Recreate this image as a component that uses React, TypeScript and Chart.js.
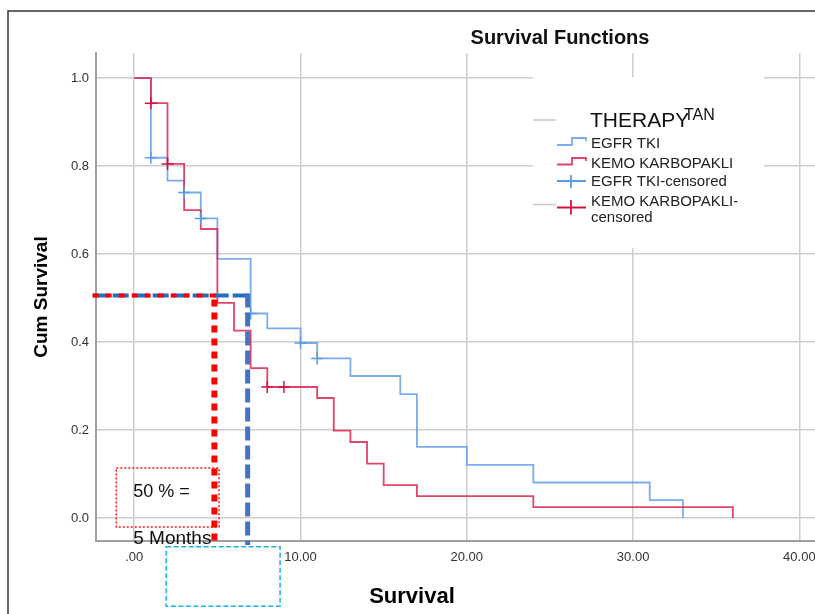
import React, { useEffect, useRef } from 'react';
import { Chart, registerables } from 'chart.js';
Chart.register(...registerables);

// ---- data ----
const xTicks = [0, 10, 20, 30, 40];
const yTicks = [0, 0.2, 0.4, 0.6, 0.8, 1.0];

const egfrTimes = [0, 1, 2, 3, 4, 5, 7, 8, 10, 11, 13, 16, 17, 20, 24, 31, 33];
const egfrSurvival = [1.0, 0.819, 0.767, 0.74, 0.681, 0.589, 0.465, 0.431, 0.398, 0.363, 0.323, 0.282, 0.162, 0.121, 0.081, 0.041, 0];
const egfrCensorTimes = [1, 3, 4, 7, 10, 11];
const egfrCensorSurvival = [0.819, 0.74, 0.681, 0.465, 0.398, 0.363];

const kemoTimes = [0, 1, 2, 3, 4, 5, 6, 7, 8, 11, 12, 13, 14, 15, 17, 24, 36];
const kemoSurvival = [1.0, 0.943, 0.805, 0.70, 0.657, 0.489, 0.426, 0.341, 0.298, 0.273, 0.199, 0.173, 0.124, 0.075, 0.050, 0.025, 0];
const kemoCensorTimes = [1, 2, 8, 9];
const kemoCensorSurvival = [0.943, 0.805, 0.298, 0.298];

const legendLabels = ['EGFR TKI', 'KEMO KARBOPAKLI', 'EGFR TKI-censored', 'KEMO KARBOPAKLI-', 'censored'];

// annotation values (in data units)
const medianLevel = 0.506;
const kemoMedianMark = 4.82;
const egfrMedianMark = 6.82;
const annStartX = -2.5;
const annBottom = -0.061;

const FONT = "'Liberation Sans', Arial, sans-serif";
const BLUE = 'rgba(100,158,236,0.85)';
const RED = 'rgba(221,36,78,0.85)';

const pts = (xs: number[], ys: number[]) => xs.map((x, i) => ({ x, y: ys[i] }));

const overlay = {
  id: 'overlay',
  beforeDraw(chart: any) {
    const { ctx, width, height } = chart;
    ctx.save();
    ctx.fillStyle = '#fff';
    ctx.fillRect(0, 0, width, height);
    ctx.restore();
  },
  afterDraw(chart: any) {
    const { ctx } = chart;
    const xs = chart.scales.x;
    const ys = chart.scales.y;
    const X = (v: number) => xs.getPixelForValue(v);
    const Y = (v: number) => ys.getPixelForValue(v);
    ctx.save();

    // outer frame
    ctx.strokeStyle = '#333';
    ctx.lineWidth = 1.5;
    ctx.beginPath();
    ctx.moveTo(8, 614);
    ctx.lineTo(8, 11);
    ctx.lineTo(900, 11);
    ctx.stroke();

    // title
    ctx.fillStyle = '#111';
    ctx.font = `bold 20px ${FONT}`;
    ctx.textAlign = 'center';
    ctx.textBaseline = 'middle';
    ctx.fillText('Survival Functions', 560, 38);

    // x title
    ctx.font = `bold 22px ${FONT}`;
    ctx.fillStyle = '#000';
    ctx.fillText('Survival', 412, 597);

    // legend box
    ctx.fillStyle = '#fff';
    ctx.fillRect(533, 77, 231, 171);
    ctx.strokeStyle = '#c8c8c8';
    ctx.lineWidth = 1.5;
    ctx.beginPath();
    ctx.moveTo(533, 120); ctx.lineTo(556, 120);
    ctx.moveTo(533, 204.5); ctx.lineTo(556, 204.5);
    ctx.stroke();

    ctx.textAlign = 'left';
    ctx.textBaseline = 'alphabetic';
    ctx.fillStyle = '#111';
    ctx.font = `21px ${FONT}`;
    ctx.fillText('THERAPY', 590, 127);
    ctx.font = `16px ${FONT}`;
    ctx.fillText('TAN', 684, 120);

    ctx.font = `15px ${FONT}`;
    ctx.fillStyle = '#222';
    ctx.textBaseline = 'middle';
    const ly = [143.5, 163.5, 182, 202, 217.5];
    legendLabels.forEach((t, i) => ctx.fillText(t, 591, ly[i]));

    ctx.lineWidth = 1.8;
    ctx.strokeStyle = BLUE;
    ctx.beginPath();
    ctx.moveTo(557, 145); ctx.lineTo(572, 145); ctx.lineTo(572, 138); ctx.lineTo(586, 138); ctx.lineTo(586, 141);
    ctx.stroke();
    ctx.strokeStyle = RED;
    ctx.beginPath();
    ctx.moveTo(557, 164.5); ctx.lineTo(572, 164.5); ctx.lineTo(572, 158); ctx.lineTo(586, 158); ctx.lineTo(586, 161);
    ctx.stroke();
    ctx.strokeStyle = '#5d9be8';
    ctx.beginPath();
    ctx.moveTo(557, 181); ctx.lineTo(586, 181);
    ctx.moveTo(571, 175); ctx.lineTo(571, 188);
    ctx.stroke();
    ctx.strokeStyle = '#d8103e';
    ctx.beginPath();
    ctx.moveTo(557, 207.5); ctx.lineTo(586, 207.5);
    ctx.moveTo(571, 200); ctx.lineTo(571, 214.5);
    ctx.stroke();

    // annotation texts
    ctx.fillStyle = '#111';
    ctx.textAlign = 'left';
    ctx.textBaseline = 'middle';
    ctx.font = `18px ${FONT}`;
    ctx.fillText('50 % =', X(-0.06), Y(0.06));
    ctx.font = `19px ${FONT}`;
    ctx.fillText('5 Months', X(-0.06), Y(-0.046));

    // red dotted box
    ctx.strokeStyle = '#ff1010';
    ctx.lineWidth = 1.5;
    ctx.setLineDash([2, 2]);
    ctx.strokeRect(X(-1.08), Y(0.114), X(5.1) - X(-1.08), Y(-0.02) - Y(0.114));

    // blue dashed box
    ctx.strokeStyle = '#1eb0ee';
    ctx.lineWidth = 1.5;
    ctx.setLineDash([5, 2.5]);
    ctx.strokeRect(X(1.92), Y(-0.065), X(8.77) - X(1.92), Y(-0.2) - Y(-0.065));

    // blue dashed median lines
    ctx.lineCap = 'butt';
    ctx.strokeStyle = '#1f6fc4';
    ctx.lineWidth = 4;
    ctx.setLineDash([16, 4]);
    ctx.beginPath();
    ctx.moveTo(X(annStartX), Y(medianLevel));
    ctx.lineTo(X(egfrMedianMark) + 2, Y(medianLevel));
    ctx.stroke();
    ctx.strokeStyle = '#4472c4';
    ctx.lineWidth = 5;
    ctx.setLineDash([14, 5]);
    ctx.beginPath();
    ctx.moveTo(X(egfrMedianMark), Y(medianLevel) - 2);
    ctx.lineTo(X(egfrMedianMark), Y(annBottom));
    ctx.stroke();

    // red dotted median lines
    ctx.strokeStyle = '#ff0000';
    ctx.lineWidth = 4;
    ctx.setLineDash([6, 7]);
    ctx.beginPath();
    ctx.moveTo(X(annStartX), Y(medianLevel));
    ctx.lineTo(X(kemoMedianMark) + 3, Y(medianLevel));
    ctx.stroke();
    ctx.lineWidth = 6;
    ctx.setLineDash([7, 6]);
    ctx.beginPath();
    ctx.moveTo(X(kemoMedianMark), Y(medianLevel) + 4);
    ctx.lineTo(X(kemoMedianMark), Y(annBottom));
    ctx.stroke();

    ctx.restore();
  },
};

export default function App() {
  const ref = useRef<HTMLCanvasElement>(null);
  useEffect(() => {
    if (!ref.current) return;
    const chart = new Chart(ref.current, {
      type: 'line',
      data: {
        datasets: [
          {
            label: 'EGFR TKI-censored',
            data: pts(egfrCensorTimes, egfrCensorSurvival),
            showLine: false,
            pointStyle: 'cross',
            pointRadius: 6,
            pointBorderWidth: 1.5,
            borderColor: '#5d9be8',
            backgroundColor: '#5d9be8',
            order: 0,
          } as any,
          {
            label: 'KEMO KARBOPAKLI-censored',
            data: pts(kemoCensorTimes, kemoCensorSurvival),
            showLine: false,
            pointStyle: 'cross',
            pointRadius: 6,
            pointBorderWidth: 1.5,
            borderColor: '#d8103e',
            backgroundColor: '#d8103e',
            order: 0,
          },
          {
            label: 'KEMO KARBOPAKLI',
            data: pts(kemoTimes, kemoSurvival),
            stepped: true,
            borderColor: RED,
            borderWidth: 1.8,
            pointRadius: 0,
            fill: false,
            order: 1,
          },
          {
            label: 'EGFR TKI',
            data: pts(egfrTimes, egfrSurvival),
            stepped: true,
            borderColor: BLUE,
            borderWidth: 1.8,
            pointRadius: 0,
            fill: false,
            order: 2,
          },
        ],
      },
      options: {
        responsive: false,
        animation: false,
        devicePixelRatio: 1,
        layout: { padding: { left: 8, top: 53, right: 0, bottom: 0 } },
        plugins: {
          legend: { display: false },
          tooltip: { enabled: false },
        },
        scales: {
          x: {
            type: 'linear',
            min: -2.3,
            max: 45.6,
            afterFit: (s: any) => { s.height = 73; },
            afterBuildTicks: (s: any) => { s.ticks = xTicks.map((v) => ({ value: v })); },
            ticks: {
              callback: (v: any) => (v === 0 ? '.00' : Number(v).toFixed(2)),
              color: '#333',
              font: { family: FONT, size: 13 },
              padding: 9,
              maxRotation: 0,
              autoSkip: false,
            },
            grid: { color: '#cdcdcd', lineWidth: 1.5, drawTicks: false },
            border: { color: '#a0a0a0', width: 2 },
          },
          y: {
            type: 'linear',
            min: -0.052,
            max: 1.057,
            afterFit: (s: any) => { s.width = 88; },
            afterBuildTicks: (s: any) => { s.ticks = yTicks.map((v) => ({ value: v })); },
            ticks: {
              callback: (v: any) => Number(v).toFixed(1),
              color: '#333',
              font: { family: FONT, size: 13 },
              padding: 7,
            },
            title: {
              display: true,
              text: 'Cum Survival',
              color: '#000',
              font: { family: FONT, size: 19, weight: 'bold' },
              padding: { top: 22, bottom: 0 },
            },
            grid: { color: '#cdcdcd', lineWidth: 1.5, drawTicks: false },
            border: { color: '#a0a0a0', width: 2 },
          },
        },
      },
      plugins: [overlay],
    });
    return () => chart.destroy();
  }, []);
  return (
    <div style={{ position: 'fixed', left: 0, top: 0, width: 815, height: 614, overflow: 'hidden', background: '#fff' }}>
      <canvas ref={ref} width={900} height={614} style={{ display: 'block' }} />
    </div>
  );
}
